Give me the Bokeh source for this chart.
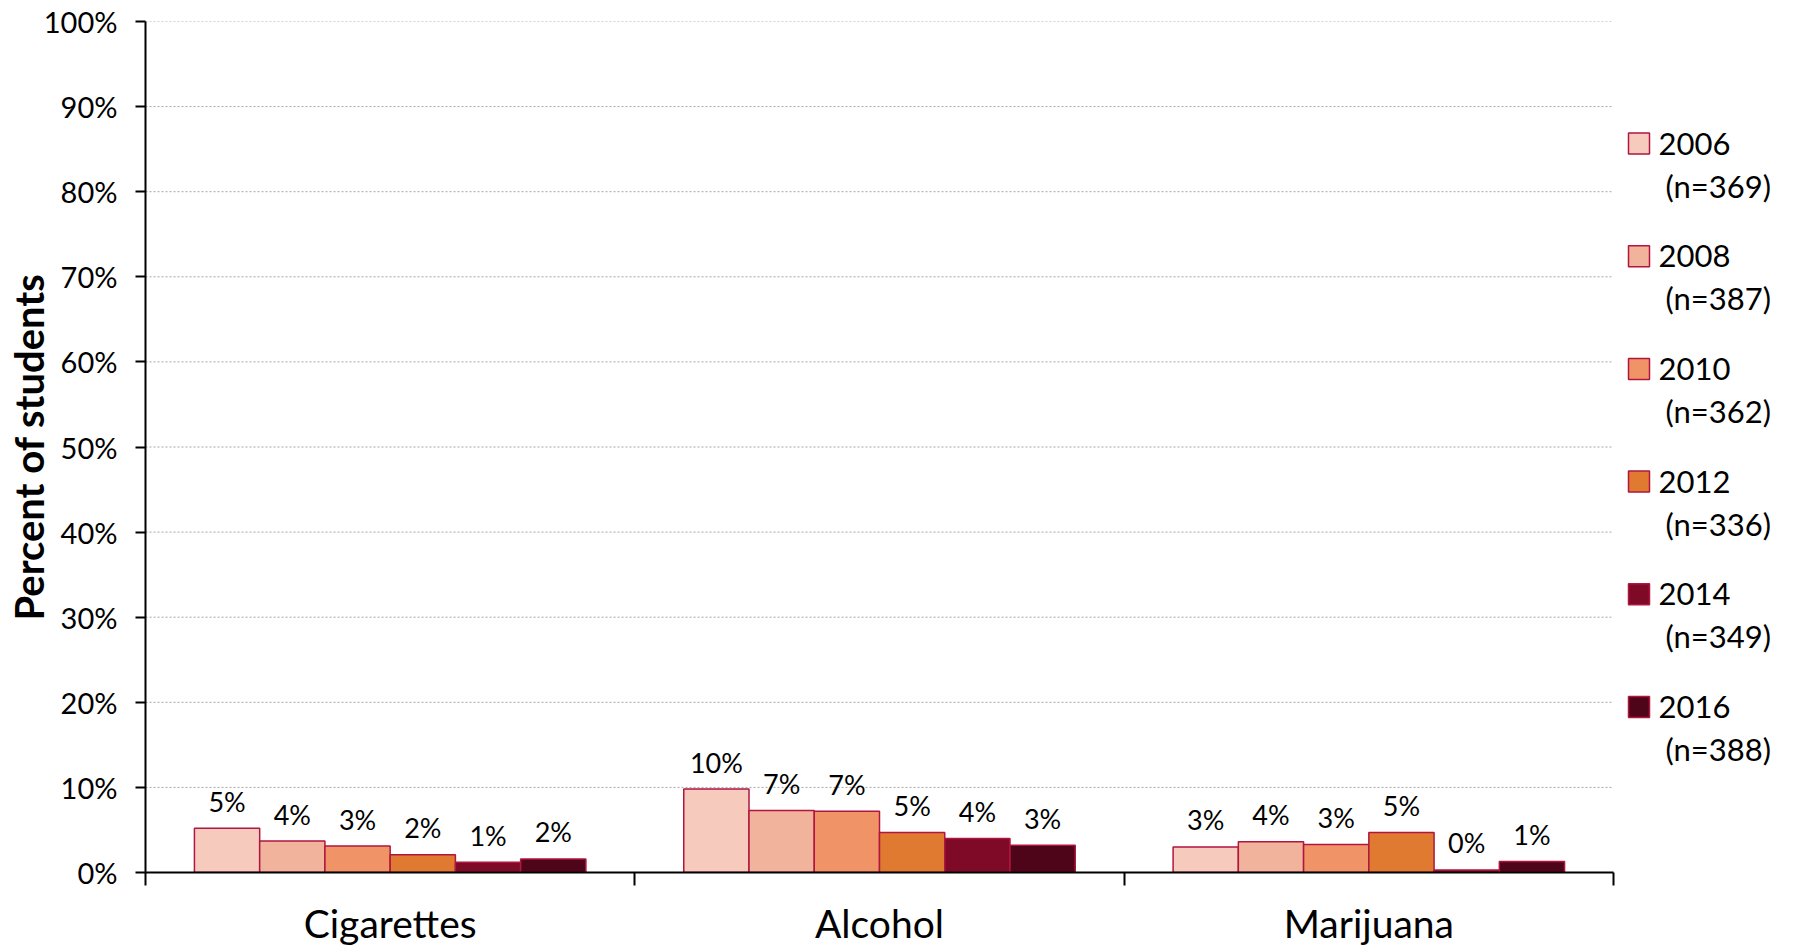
from bokeh.plotting import figure
from bokeh.models import Range1d, FixedTicker, PrintfTickFormatter
from bokeh.embed import file_html
from bokeh.resources import INLINE
from bokeh.core.properties import value

# ---------------- data ----------------
categories = ["Cigarettes", "Alcohol", "Marijuana"]
years = ["2006", "2008", "2010", "2012", "2014", "2016"]
sample_sizes = ["(n=369)", "(n=387)", "(n=362)", "(n=336)", "(n=349)", "(n=388)"]
v2006 = [5.2, 9.8, 3.0]
v2008 = [3.7, 7.3, 3.6]
v2010 = [3.1, 7.2, 3.3]
v2012 = [2.1, 4.7, 4.7]
v2014 = [1.2, 4.0, 0.3]
v2016 = [1.6, 3.2, 1.3]
series = [v2006, v2008, v2010, v2012, v2014, v2016]
y_ticks = [0, 10, 20, 30, 40, 50, 60, 70, 80, 90, 100]

# ---------------- style / layout ----------------
FONT = "Lato"
colors = ["#F6CBBE", "#F2B39C", "#F09468", "#E07A30", "#7E0A28", "#4E0519"]
outline = "#B0163F"

W, H = 1792, 948
BL, BT, BB = 145, 21, 76          # borders
chart_px = 1468                   # width of the category area
frame_w = W - BL
frame_h = H - BT - BB
n_cat = len(categories)
u = chart_px / n_cat              # pixels per category
x_end = frame_w / u
ypx = frame_h / (y_ticks[-1] - y_ticks[0])   # pixels per percent

p = figure(width=W, height=H, x_range=Range1d(0, x_end), y_range=Range1d(y_ticks[0], y_ticks[-1]),
           output_backend="svg", toolbar_location=None,
           min_border_left=BL, min_border_right=0, min_border_top=BT, min_border_bottom=BB)
p.outline_line_color = None
p.background_fill_color = "white"
p.xgrid.visible = False
p.ygrid.visible = False

# dotted horizontal gridlines limited to the category area
grid_y = [t for t in y_ticks if t > y_ticks[0]]
p.segment(x0=[0] * len(grid_y), x1=[n_cat] * len(grid_y), y0=grid_y, y1=grid_y,
          line_color="#a6a6a6", line_dash="2 2", line_width=1, level="underlay")

# y axis
p.yaxis.ticker = FixedTicker(ticks=y_ticks, minor_ticks=[])
p.yaxis.formatter = PrintfTickFormatter(format="%d%%")
p.yaxis.major_tick_out = 10
p.yaxis.major_tick_in = 0
p.yaxis.major_tick_line_width = 2
p.yaxis.axis_line_width = 2
p.yaxis.axis_line_color = "black"
p.yaxis.major_tick_line_color = "black"
p.yaxis.major_label_text_font = FONT
p.yaxis.major_label_text_font_size = "29px"
p.yaxis.major_label_text_color = "black"
p.yaxis.major_label_standoff = 18
p.yaxis.axis_label = "Percent of students"
p.yaxis.axis_label_text_font = FONT
p.yaxis.axis_label_text_font_style = "bold"
p.yaxis.axis_label_text_font_size = "40px"
p.yaxis.axis_label_text_color = "black"
p.yaxis.axis_label_standoff = -12

# x axis: labels at category centres, ticks at boundaries
centers = [i + 0.5 for i in range(n_cat)]
bounds = [i for i in range(n_cat + 1)]
p.xaxis.bounds = (0, n_cat)
p.xaxis.ticker = FixedTicker(ticks=centers, minor_ticks=bounds)
p.xaxis.major_label_overrides = {c: name for c, name in zip(centers, categories)}
p.xaxis.major_tick_out = 0
p.xaxis.major_tick_in = 0
p.xaxis.minor_tick_out = 13
p.xaxis.minor_tick_in = 0
p.xaxis.minor_tick_line_width = 2
p.xaxis.minor_tick_line_color = "black"
p.xaxis.axis_line_width = 2
p.xaxis.axis_line_color = "black"
p.xaxis.major_label_text_font = FONT
p.xaxis.major_label_text_font_size = "39px"
p.xaxis.major_label_text_color = "black"
p.xaxis.major_label_standoff = 14

# bars and labels
group_width = 0.8
bw = group_width / len(years)
for j, vals in enumerate(series):
    xs = [c + (j - (len(years) - 1) / 2) * bw for c in centers]
    p.vbar(x=xs, width=bw, top=vals, bottom=0, fill_color=colors[j],
           line_color=outline, line_width=1.5)
    p.text(x=xs, y=vals, text=[f"{v:.0f}%" for v in vals], text_align="center",
           text_baseline="middle", y_offset=-27, text_font=value(FONT),
           text_font_size="27px", text_color="black")

# ---------------- legend (right of the category area) ----------------
n = len(years)
item_gap_px = 112.7          # vertical distance between legend entries
first_px = 122.0             # first square centre below top of frame
lx_sq = n_cat + 25.5 / u
lx_year = n_cat + 45 / u
lx_n = n_cat + 52 / u
ly = [y_ticks[-1] - (first_px + i * item_gap_px) / ypx for i in range(n)]
p.scatter(x=[lx_sq] * n, y=ly, marker="square", size=21, fill_color=colors,
          line_color=outline, line_width=1.5)
p.text(x=[lx_year] * n, y=ly, text=years, y_offset=0, text_baseline="middle",
       text_align="left", text_font=value(FONT), text_font_size="31px", text_color="black")
p.text(x=[lx_n] * n, y=ly, text=sample_sizes, y_offset=42, text_baseline="middle",
       text_align="left", text_font=value(FONT), text_font_size="31px", text_color="black")

open("out.html", "w").write(file_html(p, INLINE))
